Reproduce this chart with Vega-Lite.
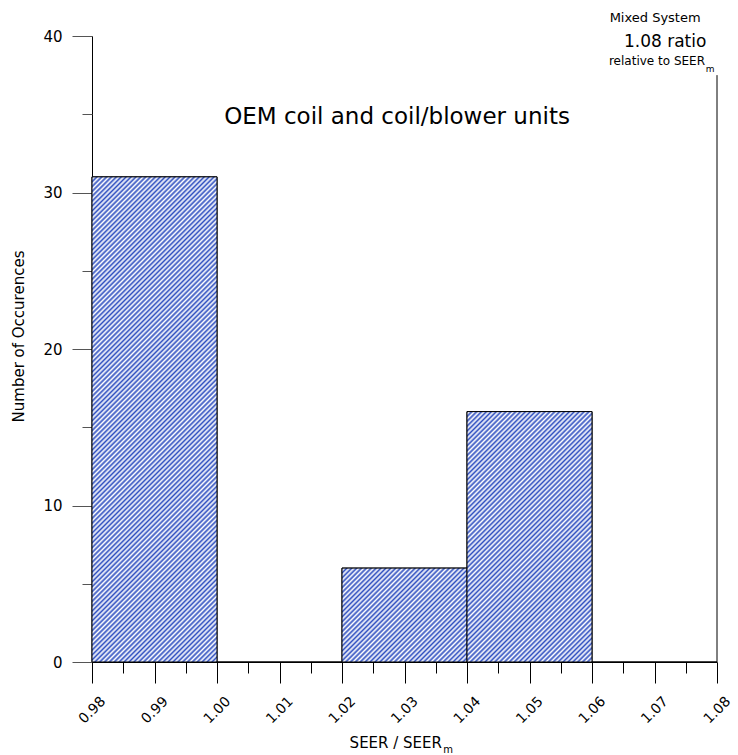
{
  "$schema": "https://vega.github.io/schema/vega-lite/v6.json",
  "width": 625,
  "height": 626,
  "autosize": {"type": "none"},
  "padding": {"left": 92, "top": 36, "right": 21, "bottom": 93},
  "background": "white",
  "config": {"view": {"stroke": null}, "font": "DejaVu Sans", "axis": {"grid": false}},
  "resolve": {"axis": {"x": "independent", "y": "independent"}},
  "datasets": {
    "bins": [
      {"bin_start": 0.98, "bin_end": 1.00, "count": 31},
      {"bin_start": 1.00, "bin_end": 1.02, "count": 0},
      {"bin_start": 1.02, "bin_end": 1.04, "count": 6},
      {"bin_start": 1.04, "bin_end": 1.06, "count": 16},
      {"bin_start": 1.06, "bin_end": 1.08, "count": 0}
    ]
  },
  "layer": [
    {
      "data": {"name": "bins"},
      "mark": {"type": "bar", "fill": null, "fillOpacity": 0, "stroke": "black", "strokeWidth": 1},
      "encoding": {
        "x": {
          "field": "bin_start", "type": "quantitative",
          "scale": {"domain": [0.98, 1.08], "nice": false, "zero": false},
          "axis": {
            "orient": "bottom",
            "values": [0.98, 0.99, 1, 1.01, 1.02, 1.03, 1.04, 1.05, 1.06, 1.07, 1.08],
            "title": null, "format": ".2f",
            "labelAngle": -45, "labelAlign": "center", "labelBaseline": "middle",
            "labelFontSize": 14, "labelColor": "black", "labelPadding": 27,
            "labelFlush": false, "labelOverlap": false,
            "ticks": true, "tickSize": 21, "tickColor": "black", "domainColor": "black"
          }
        },
        "x2": {"field": "bin_end"},
        "y": {
          "field": "count", "type": "quantitative",
          "scale": {"domain": [0, 40], "nice": false},
          "axis": {
            "orient": "left",
            "values": [0, 10, 20, 30, 40],
            "title": "Number of Occurences",
            "titleFontSize": 15, "titleFontWeight": "normal", "titleColor": "black",
            "titleX": -74, "titleY": 300, "titleAngle": -90, "titleAlign": "center", "titleBaseline": "middle",
            "labelFontSize": 15, "labelColor": "black", "labelPadding": 10,
            "ticks": true, "tickSize": 20, "tickColor": "#555555", "domainColor": "black"
          }
        },
        "y2": {"datum": 0}
      }
    },
    {
      "data": {"name": "bins"},
      "transform": [{"filter": "datum.count == 31"}],
      "mark": {"type": "bar", "stroke": "black", "strokeWidth": 1,
        "fill": {"gradient": "linear", "x1": 0, "y1": 0, "x2": 0.30379, "y2": 1.17906, "stops": [
{"offset":0,"color":"#3050c0"},{"offset":0.004,"color":"#fff"},{"offset":0.008,"color":"#3050c0"},{"offset":0.012,"color":"#fff"},{"offset":0.016,"color":"#3050c0"},{"offset":0.02,"color":"#fff"},{"offset":0.024,"color":"#3050c0"},{"offset":0.028,"color":"#fff"},{"offset":0.032,"color":"#3050c0"},{"offset":0.036,"color":"#fff"},
{"offset":0.04,"color":"#3050c0"},{"offset":0.044,"color":"#fff"},{"offset":0.048,"color":"#3050c0"},{"offset":0.052,"color":"#fff"},{"offset":0.056,"color":"#3050c0"},{"offset":0.06,"color":"#fff"},{"offset":0.064,"color":"#3050c0"},{"offset":0.068,"color":"#fff"},{"offset":0.072,"color":"#3050c0"},{"offset":0.076,"color":"#fff"},
{"offset":0.08,"color":"#3050c0"},{"offset":0.084,"color":"#fff"},{"offset":0.088,"color":"#3050c0"},{"offset":0.092,"color":"#fff"},{"offset":0.096,"color":"#3050c0"},{"offset":0.1,"color":"#fff"},{"offset":0.104,"color":"#3050c0"},{"offset":0.108,"color":"#fff"},{"offset":0.112,"color":"#3050c0"},{"offset":0.116,"color":"#fff"},
{"offset":0.12,"color":"#3050c0"},{"offset":0.124,"color":"#fff"},{"offset":0.128,"color":"#3050c0"},{"offset":0.132,"color":"#fff"},{"offset":0.136,"color":"#3050c0"},{"offset":0.14,"color":"#fff"},{"offset":0.144,"color":"#3050c0"},{"offset":0.148,"color":"#fff"},{"offset":0.152,"color":"#3050c0"},{"offset":0.156,"color":"#fff"},
{"offset":0.16,"color":"#3050c0"},{"offset":0.164,"color":"#fff"},{"offset":0.168,"color":"#3050c0"},{"offset":0.172,"color":"#fff"},{"offset":0.176,"color":"#3050c0"},{"offset":0.18,"color":"#fff"},{"offset":0.184,"color":"#3050c0"},{"offset":0.188,"color":"#fff"},{"offset":0.192,"color":"#3050c0"},{"offset":0.196,"color":"#fff"},
{"offset":0.2,"color":"#3050c0"},{"offset":0.204,"color":"#fff"},{"offset":0.208,"color":"#3050c0"},{"offset":0.212,"color":"#fff"},{"offset":0.216,"color":"#3050c0"},{"offset":0.22,"color":"#fff"},{"offset":0.224,"color":"#3050c0"},{"offset":0.228,"color":"#fff"},{"offset":0.232,"color":"#3050c0"},{"offset":0.236,"color":"#fff"},
{"offset":0.24,"color":"#3050c0"},{"offset":0.244,"color":"#fff"},{"offset":0.248,"color":"#3050c0"},{"offset":0.252,"color":"#fff"},{"offset":0.256,"color":"#3050c0"},{"offset":0.26,"color":"#fff"},{"offset":0.264,"color":"#3050c0"},{"offset":0.268,"color":"#fff"},{"offset":0.272,"color":"#3050c0"},{"offset":0.276,"color":"#fff"},
{"offset":0.28,"color":"#3050c0"},{"offset":0.284,"color":"#fff"},{"offset":0.288,"color":"#3050c0"},{"offset":0.292,"color":"#fff"},{"offset":0.296,"color":"#3050c0"},{"offset":0.3,"color":"#fff"},{"offset":0.304,"color":"#3050c0"},{"offset":0.308,"color":"#fff"},{"offset":0.312,"color":"#3050c0"},{"offset":0.316,"color":"#fff"},
{"offset":0.32,"color":"#3050c0"},{"offset":0.324,"color":"#fff"},{"offset":0.328,"color":"#3050c0"},{"offset":0.332,"color":"#fff"},{"offset":0.336,"color":"#3050c0"},{"offset":0.34,"color":"#fff"},{"offset":0.344,"color":"#3050c0"},{"offset":0.348,"color":"#fff"},{"offset":0.352,"color":"#3050c0"},{"offset":0.356,"color":"#fff"},
{"offset":0.36,"color":"#3050c0"},{"offset":0.364,"color":"#fff"},{"offset":0.368,"color":"#3050c0"},{"offset":0.372,"color":"#fff"},{"offset":0.376,"color":"#3050c0"},{"offset":0.38,"color":"#fff"},{"offset":0.384,"color":"#3050c0"},{"offset":0.388,"color":"#fff"},{"offset":0.392,"color":"#3050c0"},{"offset":0.396,"color":"#fff"},
{"offset":0.4,"color":"#3050c0"},{"offset":0.404,"color":"#fff"},{"offset":0.408,"color":"#3050c0"},{"offset":0.412,"color":"#fff"},{"offset":0.416,"color":"#3050c0"},{"offset":0.42,"color":"#fff"},{"offset":0.424,"color":"#3050c0"},{"offset":0.428,"color":"#fff"},{"offset":0.432,"color":"#3050c0"},{"offset":0.436,"color":"#fff"},
{"offset":0.44,"color":"#3050c0"},{"offset":0.444,"color":"#fff"},{"offset":0.448,"color":"#3050c0"},{"offset":0.452,"color":"#fff"},{"offset":0.456,"color":"#3050c0"},{"offset":0.46,"color":"#fff"},{"offset":0.464,"color":"#3050c0"},{"offset":0.468,"color":"#fff"},{"offset":0.472,"color":"#3050c0"},{"offset":0.476,"color":"#fff"},
{"offset":0.48,"color":"#3050c0"},{"offset":0.484,"color":"#fff"},{"offset":0.488,"color":"#3050c0"},{"offset":0.492,"color":"#fff"},{"offset":0.496,"color":"#3050c0"},{"offset":0.5,"color":"#fff"},{"offset":0.504,"color":"#3050c0"},{"offset":0.508,"color":"#fff"},{"offset":0.512,"color":"#3050c0"},{"offset":0.516,"color":"#fff"},
{"offset":0.52,"color":"#3050c0"},{"offset":0.524,"color":"#fff"},{"offset":0.528,"color":"#3050c0"},{"offset":0.532,"color":"#fff"},{"offset":0.536,"color":"#3050c0"},{"offset":0.54,"color":"#fff"},{"offset":0.544,"color":"#3050c0"},{"offset":0.548,"color":"#fff"},{"offset":0.552,"color":"#3050c0"},{"offset":0.556,"color":"#fff"},
{"offset":0.56,"color":"#3050c0"},{"offset":0.564,"color":"#fff"},{"offset":0.568,"color":"#3050c0"},{"offset":0.572,"color":"#fff"},{"offset":0.576,"color":"#3050c0"},{"offset":0.58,"color":"#fff"},{"offset":0.584,"color":"#3050c0"},{"offset":0.588,"color":"#fff"},{"offset":0.592,"color":"#3050c0"},{"offset":0.596,"color":"#fff"},
{"offset":0.6,"color":"#3050c0"},{"offset":0.604,"color":"#fff"},{"offset":0.608,"color":"#3050c0"},{"offset":0.612,"color":"#fff"},{"offset":0.616,"color":"#3050c0"},{"offset":0.62,"color":"#fff"},{"offset":0.624,"color":"#3050c0"},{"offset":0.628,"color":"#fff"},{"offset":0.632,"color":"#3050c0"},{"offset":0.636,"color":"#fff"},
{"offset":0.64,"color":"#3050c0"},{"offset":0.644,"color":"#fff"},{"offset":0.648,"color":"#3050c0"},{"offset":0.652,"color":"#fff"},{"offset":0.656,"color":"#3050c0"},{"offset":0.66,"color":"#fff"},{"offset":0.664,"color":"#3050c0"},{"offset":0.668,"color":"#fff"},{"offset":0.672,"color":"#3050c0"},{"offset":0.676,"color":"#fff"},
{"offset":0.68,"color":"#3050c0"},{"offset":0.684,"color":"#fff"},{"offset":0.688,"color":"#3050c0"},{"offset":0.692,"color":"#fff"},{"offset":0.696,"color":"#3050c0"},{"offset":0.7,"color":"#fff"},{"offset":0.704,"color":"#3050c0"},{"offset":0.708,"color":"#fff"},{"offset":0.712,"color":"#3050c0"},{"offset":0.716,"color":"#fff"},
{"offset":0.72,"color":"#3050c0"},{"offset":0.724,"color":"#fff"},{"offset":0.728,"color":"#3050c0"},{"offset":0.732,"color":"#fff"},{"offset":0.736,"color":"#3050c0"},{"offset":0.74,"color":"#fff"},{"offset":0.744,"color":"#3050c0"},{"offset":0.748,"color":"#fff"},{"offset":0.752,"color":"#3050c0"},{"offset":0.756,"color":"#fff"},
{"offset":0.76,"color":"#3050c0"},{"offset":0.764,"color":"#fff"},{"offset":0.768,"color":"#3050c0"},{"offset":0.772,"color":"#fff"},{"offset":0.776,"color":"#3050c0"},{"offset":0.78,"color":"#fff"},{"offset":0.784,"color":"#3050c0"},{"offset":0.788,"color":"#fff"},{"offset":0.792,"color":"#3050c0"},{"offset":0.796,"color":"#fff"},
{"offset":0.8,"color":"#3050c0"},{"offset":0.804,"color":"#fff"},{"offset":0.808,"color":"#3050c0"},{"offset":0.812,"color":"#fff"},{"offset":0.816,"color":"#3050c0"},{"offset":0.82,"color":"#fff"},{"offset":0.824,"color":"#3050c0"},{"offset":0.828,"color":"#fff"},{"offset":0.832,"color":"#3050c0"},{"offset":0.836,"color":"#fff"},
{"offset":0.84,"color":"#3050c0"},{"offset":0.844,"color":"#fff"},{"offset":0.848,"color":"#3050c0"},{"offset":0.852,"color":"#fff"},{"offset":0.856,"color":"#3050c0"},{"offset":0.86,"color":"#fff"},{"offset":0.864,"color":"#3050c0"},{"offset":0.868,"color":"#fff"},{"offset":0.872,"color":"#3050c0"},{"offset":0.876,"color":"#fff"},
{"offset":0.88,"color":"#3050c0"},{"offset":0.884,"color":"#fff"},{"offset":0.888,"color":"#3050c0"},{"offset":0.892,"color":"#fff"},{"offset":0.896,"color":"#3050c0"},{"offset":0.9,"color":"#fff"},{"offset":0.904,"color":"#3050c0"},{"offset":0.908,"color":"#fff"},{"offset":0.912,"color":"#3050c0"},{"offset":0.916,"color":"#fff"},
{"offset":0.92,"color":"#3050c0"},{"offset":0.924,"color":"#fff"},{"offset":0.928,"color":"#3050c0"},{"offset":0.932,"color":"#fff"},{"offset":0.936,"color":"#3050c0"},{"offset":0.94,"color":"#fff"},{"offset":0.944,"color":"#3050c0"},{"offset":0.948,"color":"#fff"},{"offset":0.952,"color":"#3050c0"},{"offset":0.956,"color":"#fff"},
{"offset":0.96,"color":"#3050c0"},{"offset":0.964,"color":"#fff"},{"offset":0.968,"color":"#3050c0"},{"offset":0.972,"color":"#fff"},{"offset":0.976,"color":"#3050c0"},{"offset":0.98,"color":"#fff"},{"offset":0.984,"color":"#3050c0"},{"offset":0.988,"color":"#fff"},{"offset":0.992,"color":"#3050c0"},{"offset":0.996,"color":"#fff"},
{"offset":1,"color":"#3050c0"}
        ]}},
      "encoding": {
        "x": {"field": "bin_start", "type": "quantitative", "scale": {"domain": [0.98, 1.08], "nice": false, "zero": false}, "axis": null},
        "x2": {"field": "bin_end"},
        "y": {"field": "count", "type": "quantitative", "scale": {"domain": [0, 40], "nice": false}, "axis": null},
        "y2": {"datum": 0}
      }
    },
    {
      "data": {"name": "bins"},
      "transform": [{"filter": "datum.count == 6"}],
      "mark": {"type": "bar", "stroke": "black", "strokeWidth": 1,
        "fill": {"gradient": "linear", "x1": 0, "y1": 0, "x2": 3.1196, "y2": 2.3435, "stops": [
{"offset":0,"color":"#3050c0"},{"offset":0.004,"color":"#fff"},{"offset":0.008,"color":"#3050c0"},{"offset":0.012,"color":"#fff"},{"offset":0.016,"color":"#3050c0"},{"offset":0.02,"color":"#fff"},{"offset":0.024,"color":"#3050c0"},{"offset":0.028,"color":"#fff"},{"offset":0.032,"color":"#3050c0"},{"offset":0.036,"color":"#fff"},
{"offset":0.04,"color":"#3050c0"},{"offset":0.044,"color":"#fff"},{"offset":0.048,"color":"#3050c0"},{"offset":0.052,"color":"#fff"},{"offset":0.056,"color":"#3050c0"},{"offset":0.06,"color":"#fff"},{"offset":0.064,"color":"#3050c0"},{"offset":0.068,"color":"#fff"},{"offset":0.072,"color":"#3050c0"},{"offset":0.076,"color":"#fff"},
{"offset":0.08,"color":"#3050c0"},{"offset":0.084,"color":"#fff"},{"offset":0.088,"color":"#3050c0"},{"offset":0.092,"color":"#fff"},{"offset":0.096,"color":"#3050c0"},{"offset":0.1,"color":"#fff"},{"offset":0.104,"color":"#3050c0"},{"offset":0.108,"color":"#fff"},{"offset":0.112,"color":"#3050c0"},{"offset":0.116,"color":"#fff"},
{"offset":0.12,"color":"#3050c0"},{"offset":0.124,"color":"#fff"},{"offset":0.128,"color":"#3050c0"},{"offset":0.132,"color":"#fff"},{"offset":0.136,"color":"#3050c0"},{"offset":0.14,"color":"#fff"},{"offset":0.144,"color":"#3050c0"},{"offset":0.148,"color":"#fff"},{"offset":0.152,"color":"#3050c0"},{"offset":0.156,"color":"#fff"},
{"offset":0.16,"color":"#3050c0"},{"offset":0.164,"color":"#fff"},{"offset":0.168,"color":"#3050c0"},{"offset":0.172,"color":"#fff"},{"offset":0.176,"color":"#3050c0"},{"offset":0.18,"color":"#fff"},{"offset":0.184,"color":"#3050c0"},{"offset":0.188,"color":"#fff"},{"offset":0.192,"color":"#3050c0"},{"offset":0.196,"color":"#fff"},
{"offset":0.2,"color":"#3050c0"},{"offset":0.204,"color":"#fff"},{"offset":0.208,"color":"#3050c0"},{"offset":0.212,"color":"#fff"},{"offset":0.216,"color":"#3050c0"},{"offset":0.22,"color":"#fff"},{"offset":0.224,"color":"#3050c0"},{"offset":0.228,"color":"#fff"},{"offset":0.232,"color":"#3050c0"},{"offset":0.236,"color":"#fff"},
{"offset":0.24,"color":"#3050c0"},{"offset":0.244,"color":"#fff"},{"offset":0.248,"color":"#3050c0"},{"offset":0.252,"color":"#fff"},{"offset":0.256,"color":"#3050c0"},{"offset":0.26,"color":"#fff"},{"offset":0.264,"color":"#3050c0"},{"offset":0.268,"color":"#fff"},{"offset":0.272,"color":"#3050c0"},{"offset":0.276,"color":"#fff"},
{"offset":0.28,"color":"#3050c0"},{"offset":0.284,"color":"#fff"},{"offset":0.288,"color":"#3050c0"},{"offset":0.292,"color":"#fff"},{"offset":0.296,"color":"#3050c0"},{"offset":0.3,"color":"#fff"},{"offset":0.304,"color":"#3050c0"},{"offset":0.308,"color":"#fff"},{"offset":0.312,"color":"#3050c0"},{"offset":0.316,"color":"#fff"},
{"offset":0.32,"color":"#3050c0"},{"offset":0.324,"color":"#fff"},{"offset":0.328,"color":"#3050c0"},{"offset":0.332,"color":"#fff"},{"offset":0.336,"color":"#3050c0"},{"offset":0.34,"color":"#fff"},{"offset":0.344,"color":"#3050c0"},{"offset":0.348,"color":"#fff"},{"offset":0.352,"color":"#3050c0"},{"offset":0.356,"color":"#fff"},
{"offset":0.36,"color":"#3050c0"},{"offset":0.364,"color":"#fff"},{"offset":0.368,"color":"#3050c0"},{"offset":0.372,"color":"#fff"},{"offset":0.376,"color":"#3050c0"}
        ]}},
      "encoding": {
        "x": {"field": "bin_start", "type": "quantitative", "scale": {"domain": [0.98, 1.08], "nice": false, "zero": false}, "axis": null},
        "x2": {"field": "bin_end"},
        "y": {"field": "count", "type": "quantitative", "scale": {"domain": [0, 40], "nice": false}, "axis": null},
        "y2": {"datum": 0}
      }
    },
    {
      "data": {"name": "bins"},
      "transform": [{"filter": "datum.count == 16"}],
      "mark": {"type": "bar", "stroke": "black", "strokeWidth": 1,
        "fill": {"gradient": "linear", "x1": 0, "y1": 0, "x2": 0.97351, "y2": 1.95014, "stops": [
{"offset":0,"color":"#3050c0"},{"offset":0.004,"color":"#fff"},{"offset":0.008,"color":"#3050c0"},{"offset":0.012,"color":"#fff"},{"offset":0.016,"color":"#3050c0"},{"offset":0.02,"color":"#fff"},{"offset":0.024,"color":"#3050c0"},{"offset":0.028,"color":"#fff"},{"offset":0.032,"color":"#3050c0"},{"offset":0.036,"color":"#fff"},
{"offset":0.04,"color":"#3050c0"},{"offset":0.044,"color":"#fff"},{"offset":0.048,"color":"#3050c0"},{"offset":0.052,"color":"#fff"},{"offset":0.056,"color":"#3050c0"},{"offset":0.06,"color":"#fff"},{"offset":0.064,"color":"#3050c0"},{"offset":0.068,"color":"#fff"},{"offset":0.072,"color":"#3050c0"},{"offset":0.076,"color":"#fff"},
{"offset":0.08,"color":"#3050c0"},{"offset":0.084,"color":"#fff"},{"offset":0.088,"color":"#3050c0"},{"offset":0.092,"color":"#fff"},{"offset":0.096,"color":"#3050c0"},{"offset":0.1,"color":"#fff"},{"offset":0.104,"color":"#3050c0"},{"offset":0.108,"color":"#fff"},{"offset":0.112,"color":"#3050c0"},{"offset":0.116,"color":"#fff"},
{"offset":0.12,"color":"#3050c0"},{"offset":0.124,"color":"#fff"},{"offset":0.128,"color":"#3050c0"},{"offset":0.132,"color":"#fff"},{"offset":0.136,"color":"#3050c0"},{"offset":0.14,"color":"#fff"},{"offset":0.144,"color":"#3050c0"},{"offset":0.148,"color":"#fff"},{"offset":0.152,"color":"#3050c0"},{"offset":0.156,"color":"#fff"},
{"offset":0.16,"color":"#3050c0"},{"offset":0.164,"color":"#fff"},{"offset":0.168,"color":"#3050c0"},{"offset":0.172,"color":"#fff"},{"offset":0.176,"color":"#3050c0"},{"offset":0.18,"color":"#fff"},{"offset":0.184,"color":"#3050c0"},{"offset":0.188,"color":"#fff"},{"offset":0.192,"color":"#3050c0"},{"offset":0.196,"color":"#fff"},
{"offset":0.2,"color":"#3050c0"},{"offset":0.204,"color":"#fff"},{"offset":0.208,"color":"#3050c0"},{"offset":0.212,"color":"#fff"},{"offset":0.216,"color":"#3050c0"},{"offset":0.22,"color":"#fff"},{"offset":0.224,"color":"#3050c0"},{"offset":0.228,"color":"#fff"},{"offset":0.232,"color":"#3050c0"},{"offset":0.236,"color":"#fff"},
{"offset":0.24,"color":"#3050c0"},{"offset":0.244,"color":"#fff"},{"offset":0.248,"color":"#3050c0"},{"offset":0.252,"color":"#fff"},{"offset":0.256,"color":"#3050c0"},{"offset":0.26,"color":"#fff"},{"offset":0.264,"color":"#3050c0"},{"offset":0.268,"color":"#fff"},{"offset":0.272,"color":"#3050c0"},{"offset":0.276,"color":"#fff"},
{"offset":0.28,"color":"#3050c0"},{"offset":0.284,"color":"#fff"},{"offset":0.288,"color":"#3050c0"},{"offset":0.292,"color":"#fff"},{"offset":0.296,"color":"#3050c0"},{"offset":0.3,"color":"#fff"},{"offset":0.304,"color":"#3050c0"},{"offset":0.308,"color":"#fff"},{"offset":0.312,"color":"#3050c0"},{"offset":0.316,"color":"#fff"},
{"offset":0.32,"color":"#3050c0"},{"offset":0.324,"color":"#fff"},{"offset":0.328,"color":"#3050c0"},{"offset":0.332,"color":"#fff"},{"offset":0.336,"color":"#3050c0"},{"offset":0.34,"color":"#fff"},{"offset":0.344,"color":"#3050c0"},{"offset":0.348,"color":"#fff"},{"offset":0.352,"color":"#3050c0"},{"offset":0.356,"color":"#fff"},
{"offset":0.36,"color":"#3050c0"},{"offset":0.364,"color":"#fff"},{"offset":0.368,"color":"#3050c0"},{"offset":0.372,"color":"#fff"},{"offset":0.376,"color":"#3050c0"},{"offset":0.38,"color":"#fff"},{"offset":0.384,"color":"#3050c0"},{"offset":0.388,"color":"#fff"},{"offset":0.392,"color":"#3050c0"},{"offset":0.396,"color":"#fff"},
{"offset":0.4,"color":"#3050c0"},{"offset":0.404,"color":"#fff"},{"offset":0.408,"color":"#3050c0"},{"offset":0.412,"color":"#fff"},{"offset":0.416,"color":"#3050c0"},{"offset":0.42,"color":"#fff"},{"offset":0.424,"color":"#3050c0"},{"offset":0.428,"color":"#fff"},{"offset":0.432,"color":"#3050c0"},{"offset":0.436,"color":"#fff"},
{"offset":0.44,"color":"#3050c0"},{"offset":0.444,"color":"#fff"},{"offset":0.448,"color":"#3050c0"},{"offset":0.452,"color":"#fff"},{"offset":0.456,"color":"#3050c0"},{"offset":0.46,"color":"#fff"},{"offset":0.464,"color":"#3050c0"},{"offset":0.468,"color":"#fff"},{"offset":0.472,"color":"#3050c0"},{"offset":0.476,"color":"#fff"},
{"offset":0.48,"color":"#3050c0"},{"offset":0.484,"color":"#fff"},{"offset":0.488,"color":"#3050c0"},{"offset":0.492,"color":"#fff"},{"offset":0.496,"color":"#3050c0"},{"offset":0.5,"color":"#fff"},{"offset":0.504,"color":"#3050c0"},{"offset":0.508,"color":"#fff"},{"offset":0.512,"color":"#3050c0"},{"offset":0.516,"color":"#fff"},
{"offset":0.52,"color":"#3050c0"},{"offset":0.524,"color":"#fff"},{"offset":0.528,"color":"#3050c0"},{"offset":0.532,"color":"#fff"},{"offset":0.536,"color":"#3050c0"},{"offset":0.54,"color":"#fff"},{"offset":0.544,"color":"#3050c0"},{"offset":0.548,"color":"#fff"},{"offset":0.552,"color":"#3050c0"},{"offset":0.556,"color":"#fff"},
{"offset":0.56,"color":"#3050c0"},{"offset":0.564,"color":"#fff"},{"offset":0.568,"color":"#3050c0"},{"offset":0.572,"color":"#fff"},{"offset":0.576,"color":"#3050c0"},{"offset":0.58,"color":"#fff"},{"offset":0.584,"color":"#3050c0"},{"offset":0.588,"color":"#fff"},{"offset":0.592,"color":"#3050c0"},{"offset":0.596,"color":"#fff"},
{"offset":0.6,"color":"#3050c0"},{"offset":0.604,"color":"#fff"},{"offset":0.608,"color":"#3050c0"},{"offset":0.612,"color":"#fff"},{"offset":0.616,"color":"#3050c0"},{"offset":0.62,"color":"#fff"},{"offset":0.624,"color":"#3050c0"}
        ]}},
      "encoding": {
        "x": {"field": "bin_start", "type": "quantitative", "scale": {"domain": [0.98, 1.08], "nice": false, "zero": false}, "axis": null},
        "x2": {"field": "bin_end"},
        "y": {"field": "count", "type": "quantitative", "scale": {"domain": [0, 40], "nice": false}, "axis": null},
        "y2": {"datum": 0}
      }
    },
    {
      "data": {"values": [{}]},
      "mark": {"type": "rule", "color": "black", "strokeWidth": 1},
      "encoding": {
        "x": {"datum": 1.08, "type": "quantitative", "scale": {"domain": [0.98, 1.08], "nice": false, "zero": false},
          "axis": {"orient": "bottom", "values": [0.985, 0.995, 1.005, 1.015, 1.025, 1.035, 1.045, 1.055, 1.065, 1.075],
            "title": null, "labels": false, "domain": false, "tickSize": 11, "tickColor": "black"}},
        "y": {"datum": 0, "type": "quantitative", "scale": {"domain": [0, 40], "nice": false},
          "axis": {"orient": "left", "values": [5, 15, 25, 35],
            "title": null, "labels": false, "domain": false, "tickSize": 10, "tickColor": "#555555"}},
        "y2": {"datum": 37.5}
      }
    },
    {
      "data": {"values": [{"t": "OEM coil and coil/blower units"}]},
      "mark": {"type": "text", "fontSize": 23, "align": "center", "baseline": "alphabetic", "color": "black"},
      "encoding": {
        "x": {"datum": 1.0288, "type": "quantitative", "scale": {"domain": [0.98, 1.08], "nice": false, "zero": false}, "axis": null},
        "y": {"datum": 34.35, "type": "quantitative", "scale": {"domain": [0, 40], "nice": false}, "axis": null},
        "text": {"field": "t"}
      }
    },
    {
      "data": {"values": [{"t": "Mixed System"}]},
      "mark": {"type": "text", "fontSize": 13, "align": "center", "baseline": "alphabetic", "color": "black"},
      "encoding": {
        "x": {"datum": 1.0701, "type": "quantitative", "scale": {"domain": [0.98, 1.08], "nice": false, "zero": false}, "axis": null},
        "y": {"datum": 40.89, "type": "quantitative", "scale": {"domain": [0, 40], "nice": false}, "axis": null},
        "text": {"field": "t"}
      }
    },
    {
      "data": {"values": [{"t": "1.08 ratio"}]},
      "mark": {"type": "text", "fontSize": 17, "align": "center", "baseline": "alphabetic", "color": "black"},
      "encoding": {
        "x": {"datum": 1.0717, "type": "quantitative", "scale": {"domain": [0.98, 1.08], "nice": false, "zero": false}, "axis": null},
        "y": {"datum": 39.3, "type": "quantitative", "scale": {"domain": [0, 40], "nice": false}, "axis": null},
        "text": {"field": "t"}
      }
    },
    {
      "data": {"values": [{"t": "relative to SEER"}]},
      "mark": {"type": "text", "fontSize": 12, "align": "right", "baseline": "alphabetic", "color": "black"},
      "encoding": {
        "x": {"datum": 1.07808, "type": "quantitative", "scale": {"domain": [0.98, 1.08], "nice": false, "zero": false}, "axis": null},
        "y": {"datum": 38.15, "type": "quantitative", "scale": {"domain": [0, 40], "nice": false}, "axis": null},
        "text": {"field": "t"}
      }
    },
    {
      "data": {"values": [{"t": "m"}]},
      "mark": {"type": "text", "fontSize": 9, "align": "left", "baseline": "alphabetic", "color": "black"},
      "encoding": {
        "x": {"datum": 1.0782, "type": "quantitative", "scale": {"domain": [0.98, 1.08], "nice": false, "zero": false}, "axis": null},
        "y": {"datum": 37.7, "type": "quantitative", "scale": {"domain": [0, 40], "nice": false}, "axis": null},
        "text": {"field": "t"}
      }
    },
    {
      "data": {"values": [{"t": "SEER / SEER"}]},
      "mark": {"type": "text", "fontSize": 15, "align": "right", "baseline": "alphabetic", "color": "black"},
      "encoding": {
        "x": {"datum": 1.036, "type": "quantitative", "scale": {"domain": [0.98, 1.08], "nice": false, "zero": false}, "axis": null},
        "y": {"datum": -5.495, "type": "quantitative", "scale": {"domain": [0, 40], "nice": false}, "axis": null},
        "text": {"field": "t"}
      }
    },
    {
      "data": {"values": [{"t": "m"}]},
      "mark": {"type": "text", "fontSize": 10, "align": "left", "baseline": "alphabetic", "color": "black"},
      "encoding": {
        "x": {"datum": 1.0362, "type": "quantitative", "scale": {"domain": [0.98, 1.08], "nice": false, "zero": false}, "axis": null},
        "y": {"datum": -5.815, "type": "quantitative", "scale": {"domain": [0, 40], "nice": false}, "axis": null},
        "text": {"field": "t"}
      }
    }
  ]
}
